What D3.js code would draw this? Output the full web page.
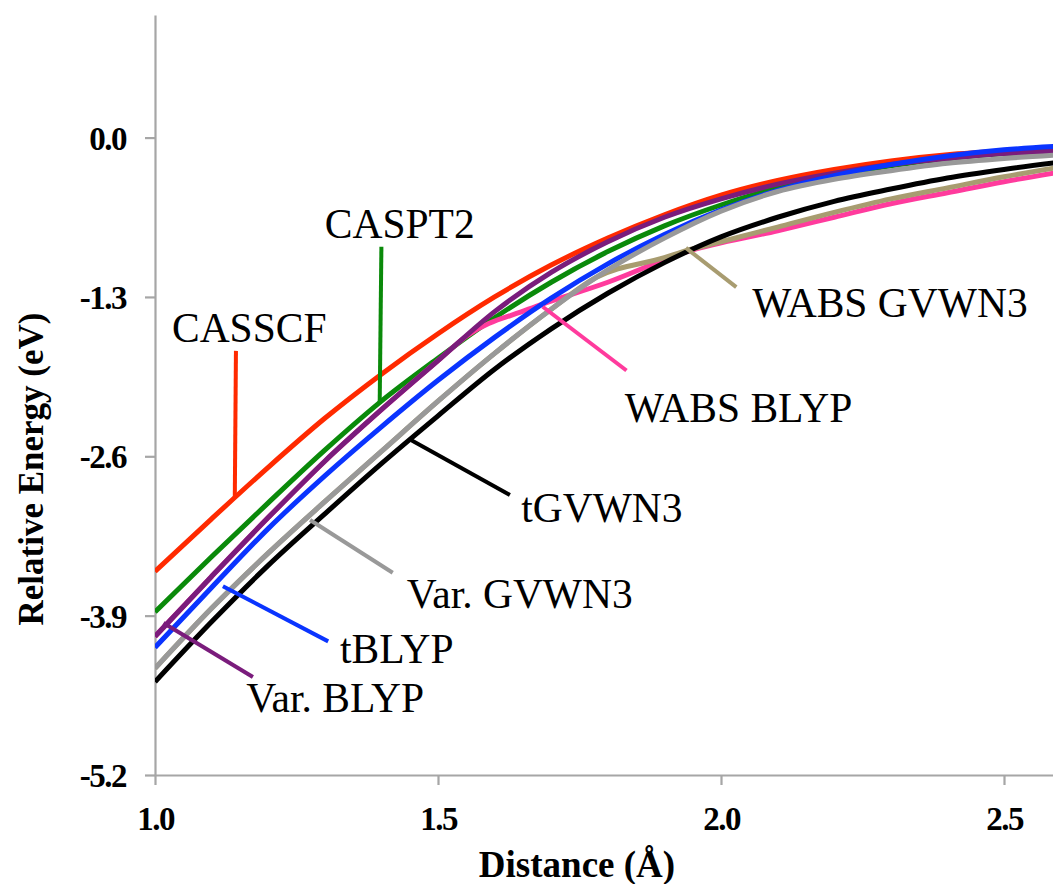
<!DOCTYPE html>
<html>
<head>
<meta charset="utf-8">
<script src="https://cdn.jsdelivr.net/npm/d3@7"></script>
<style>
  html, body { margin: 0; padding: 0; background: #fff; }
  svg { display: block; }
  text { font-family: "Liberation Serif", "Times New Roman", serif; }
</style>
</head>
<body>
<svg id="chart" width="1053" height="884"></svg>
<script>
// ---------------- data ----------------
const distance = [1.0, 1.1, 1.2, 1.3, 1.4, 1.5, 1.6, 1.7, 1.8, 1.9, 2.0, 2.1, 2.2, 2.3, 2.4, 2.5, 2.6];

const casscf   = [-3.54, -3.11, -2.69, -2.29, -1.93, -1.60, -1.30, -1.04, -0.82, -0.63, -0.47, -0.35, -0.26, -0.19, -0.14, -0.11, -0.09];
const caspt2   = [-3.87, -3.42, -2.98, -2.55, -2.15, -1.80, -1.47, -1.18, -0.93, -0.72, -0.55, -0.41, -0.31, -0.23, -0.17, -0.13, -0.11];
const varBLYP  = [-4.07, -3.58, -3.10, -2.64, -2.22, -1.82, -1.42, -1.10, -0.85, -0.65, -0.50, -0.38, -0.29, -0.22, -0.17, -0.13, -0.11];
const tBLYP    = [-4.16, -3.67, -3.19, -2.76, -2.36, -1.98, -1.63, -1.31, -1.03, -0.79, -0.59, -0.43, -0.31, -0.22, -0.15, -0.10, -0.07];
const varGVWN3 = [-4.33, -3.84, -3.39, -2.97, -2.56, -2.15, -1.76, -1.40, -1.08, -0.82, -0.60, -0.44, -0.34, -0.27, -0.21, -0.17, -0.14];
const tGVWN3   = [-4.44, -3.95, -3.49, -3.07, -2.66, -2.27, -1.89, -1.56, -1.27, -1.02, -0.81, -0.65, -0.52, -0.42, -0.33, -0.26, -0.20];

const wabsBLYPDistance = [1.0, 1.1, 1.2, 1.3, 1.4, 1.5, 1.55, 1.66, 1.8, 1.94, 2.1, 2.2, 2.3, 2.4, 2.5, 2.6];
const wabsBLYP         = [-4.07, -3.58, -3.10, -2.64, -2.22, -1.82, -1.62, -1.40, -1.18, -0.93, -0.76, -0.65, -0.54, -0.45, -0.36, -0.28];

const wabsGVWN3Distance = [1.0, 1.1, 1.2, 1.3, 1.4, 1.5, 1.6, 1.7, 1.78, 1.9, 1.94, 2.0, 2.1, 2.2, 2.3, 2.4, 2.5, 2.6];
const wabsGVWN3         = [-4.33, -3.84, -3.39, -2.97, -2.56, -2.15, -1.76, -1.40, -1.14, -0.98, -0.92, -0.85, -0.73, -0.61, -0.50, -0.41, -0.32, -0.24];

const xTicks = [1.0, 1.5, 2.0, 2.5];
const yTicks = [-5.2, -3.9, -2.6, -1.3, 0.0];

// series in drawing order (later = on top)
const series = [
  { name: "CASSCF",     x: distance,          y: casscf,    color: "#ff2a00" },
  { name: "CASPT2",     x: distance,          y: caspt2,    color: "#0a8a0a" },
  { name: "WABS BLYP",  x: wabsBLYPDistance,  y: wabsBLYP,  color: "#ff3b9d" },
  { name: "Var. BLYP",  x: distance,          y: varBLYP,   color: "#7a1c7c" },
  { name: "tBLYP",      x: distance,          y: tBLYP,     color: "#0a34ff" },
  { name: "WABS GVWN3", x: wabsGVWN3Distance, y: wabsGVWN3, color: "#a89c70" },
  { name: "Var. GVWN3", x: distance,          y: varGVWN3,  color: "#999999" },
  { name: "tGVWN3",     x: distance,          y: tGVWN3,    color: "#000000" }
];

// label annotations: label anchor in data units, leader from curve point to label
const annotations = [
  { name: "CASSCF",     color: "#ff2a00", tx: 1.03,  ty: -1.67, lx1: 1.141, ly1: -2.93, lx2: 1.143, ly2: -1.74 },
  { name: "CASPT2",     color: "#0a8a0a", tx: 1.30,  ty: -0.82, lx1: 1.397, ly1: -2.16, lx2: 1.400, ly2: -0.89 },
  { name: "WABS GVWN3", color: "#a89c70", tx: 2.055, ty: -1.46, lx1: 1.938, ly1: -0.90, lx2: 2.027, ly2: -1.22 },
  { name: "WABS BLYP",  color: "#ff3b9d", tx: 1.83,  ty: -2.32, lx1: 1.685, ly1: -1.38, lx2: 1.833, ly2: -1.90 },
  { name: "tGVWN3",     color: "#000000", tx: 1.647, ty: -3.14, lx1: 1.453, ly1: -2.47, lx2: 1.627, ly2: -2.915 },
  { name: "Var. GVWN3", color: "#999999", tx: 1.445, ty: -3.84, lx1: 1.274, ly1: -3.12, lx2: 1.420, ly2: -3.55 },
  { name: "tBLYP",      color: "#0a34ff", tx: 1.327, ty: -4.29, lx1: 1.120, ly1: -3.66, lx2: 1.306, ly2: -4.11 },
  { name: "Var. BLYP",  color: "#7a1c7c", tx: 1.161, ty: -4.69, lx1: 1.015, ly1: -3.96, lx2: 1.173, ly2: -4.40 }
];

// ---------------- layout ----------------
const W = 1053, H = 884;
const plotLeft = 155, plotRight = 1053, plotTop = 15, plotBottom = 775;

const x = d3.scaleLinear().domain([1.0, 1.0 + (plotRight - plotLeft) / 566]).range([plotLeft, plotRight]);
const y = d3.scaleLinear().domain([-5.2, 1.0]).range([plotBottom, plotTop]);

const svg = d3.select("#chart");
svg.append("rect").attr("width", W).attr("height", H).attr("fill", "#fff");

svg.append("defs").append("clipPath").attr("id", "plot")
  .append("rect").attr("x", plotLeft).attr("y", plotTop)
  .attr("width", plotRight - plotLeft).attr("height", plotBottom - plotTop);

// axes
const axisColor = "#a6a6a6";
const yAxis = d3.axisLeft(y).tickValues(yTicks).tickSize(10).tickSizeOuter(0)
  .tickFormat(d => d.toFixed(1));
const xAxis = d3.axisBottom(x).tickValues(xTicks).tickSize(10).tickSizeOuter(0)
  .tickFormat(d => d.toFixed(1));

const gy = svg.append("g").attr("transform", `translate(${plotLeft},0)`).call(yAxis);
const gx = svg.append("g").attr("transform", `translate(0,${plotBottom})`).call(xAxis);

[gy, gx].forEach(g => {
  g.select(".domain").attr("stroke", axisColor).attr("stroke-width", 2.2);
  g.selectAll(".tick line").attr("stroke", axisColor).attr("stroke-width", 2.2);
  g.selectAll(".tick text")
    .attr("fill", "#000")
    .attr("font-family", "'Liberation Serif', 'Times New Roman', serif")
    .attr("font-weight", "bold")
    .attr("font-size", 33)
    .style("letter-spacing", "-1.5px");
});
gy.selectAll(".tick text").attr("x", -29).attr("dy", "0.35em");
gx.selectAll(".tick text").attr("y", 32).attr("dy", "0.71em");

// axis titles
svg.append("text")
  .attr("x", 577).attr("y", 877)
  .attr("text-anchor", "middle")
  .attr("font-weight", "bold").attr("font-size", 37)
  .text("Distance (Å)");

svg.append("text")
  .attr("transform", "translate(43,469) rotate(-90)")
  .attr("text-anchor", "middle")
  .attr("font-weight", "bold").attr("font-size", 35)
  .text("Relative Energy (eV)");

// curves
const line = d3.line()
  .x(d => x(d[0]))
  .y(d => y(d[1]))
  .curve(d3.curveMonotoneX);

const plot = svg.append("g").attr("clip-path", "url(#plot)");
series.forEach(s => {
  const pts = s.x.map((v, i) => [v, s.y[i]]);
  plot.append("path")
    .datum(pts)
    .attr("d", line)
    .attr("fill", "none")
    .attr("stroke", s.color)
    .attr("stroke-width", 5)
    .attr("stroke-linejoin", "round");
});

// leaders and labels
const ann = svg.append("g");
annotations.forEach(a => {
  ann.append("line")
    .attr("x1", x(a.lx1)).attr("y1", y(a.ly1))
    .attr("x2", x(a.lx2)).attr("y2", y(a.ly2))
    .attr("stroke", a.color).attr("stroke-width", 4);
  ann.append("text")
    .attr("x", x(a.tx)).attr("y", y(a.ty))
    .attr("font-size", 41.5)
    .attr("fill", "#000")
    .text(a.name);
});
</script>
</body>
</html>
